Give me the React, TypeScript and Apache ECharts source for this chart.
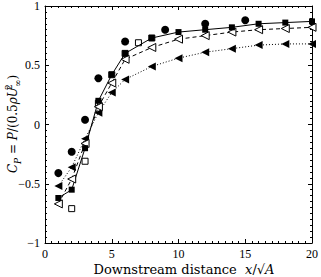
import React, { useEffect, useRef } from 'react';
import * as echarts from 'echarts';

// Downstream positions for the line series
const lineX = [1, 2, 3, 4, 5, 6, 8, 10, 12, 14, 16, 18, 20];
const filledSquareY = [-0.62, -0.55, -0.2, 0.2, 0.42, 0.6, 0.73, 0.78, 0.8, 0.82, 0.85, 0.86, 0.87];
const openTriangleY = [-0.67, -0.46, -0.16, 0.15, 0.35, 0.55, 0.65, 0.72, 0.75, 0.78, 0.8, 0.81, 0.82];
const filledTriangleY = [-0.52, -0.36, -0.12, 0.1, 0.27, 0.38, 0.49, 0.56, 0.61, 0.64, 0.67, 0.68, 0.68];

// Scatter-only series
const openSquareX = [2, 3, 4, 5, 6, 7, 8];
const openSquareY = [-0.71, -0.31, 0.18, 0.42, 0.6, 0.69, 0.73];
const circleX = [1, 2, 3, 4, 6, 9, 12, 15];
const circleY = [-0.41, -0.23, 0.04, 0.39, 0.7, 0.8, 0.85, 0.88];

const xTicks = { min: 0, max: 20, interval: 5 };
const yTicks = { min: -1, max: 1, interval: 0.5 };

const pair = (xs: number[], ys: number[]) => xs.map((x, i) => [x, ys[i]]);

export default function App() {
  const ref = useRef<HTMLDivElement>(null);
  useEffect(() => {
    document.body.style.margin = '0';
    const chart = echarts.init(ref.current!, null, { renderer: 'svg' });
    const font = 'Liberation Serif';
    const labelFont = 'DejaVu Serif';
    const tickCommon = {
      axisLine: { show: true, onZero: false, lineStyle: { color: '#000', width: 1 } },
      axisTick: { show: true, inside: true, length: 4, lineStyle: { color: '#000', width: 1 } },
      minorTick: { show: true, splitNumber: 10, length: 2, lineStyle: { color: '#000', width: 1 } },
      splitLine: { show: false },
      minorSplitLine: { show: false },
    };
    const fmt = (v: number) => (v < 0 ? '\u2212' + Math.abs(v) : String(v));
    chart.setOption({
      animation: false,
      backgroundColor: '#fff',
      grid: { left: 45, right: 9, top: 5, bottom: 34, containLabel: false },
      xAxis: [
        {
          type: 'value', position: 'bottom', ...xTicks, ...tickCommon,
          axisLabel: { color: '#000', fontFamily: font, fontSize: 12, lineHeight: 12, margin: 5, formatter: fmt },
        },
        {
          type: 'value', position: 'top', ...xTicks, ...tickCommon,
          axisLabel: { show: false },
        },
      ],
      yAxis: [
        {
          type: 'value', position: 'left', ...yTicks, ...tickCommon,
          axisLabel: { color: '#000', fontFamily: font, fontSize: 12, lineHeight: 12, margin: 5, formatter: fmt },
        },
        {
          type: 'value', position: 'right', ...yTicks, ...tickCommon,
          axisLabel: { show: false },
        },
      ],
      graphic: [
        {
          type: 'text',
          x: 184,
          y: 269,
          style: {
            text: 'Downstream distance  {i|x}/\u221A{i|A}',
            fontFamily: labelFont,
            fontSize: 13,
            lineHeight: 12,
            fill: '#000',
            align: 'center',
            verticalAlign: 'middle',
            rich: {
              i: { fontFamily: labelFont, fontStyle: 'italic', fontSize: 13, lineHeight: 12, fill: '#000' },
            },
          },
        },
        {
          type: 'text',
          x: 13,
          y: 124,
          rotation: Math.PI / 2,
          style: {
            text: '{i|C}{sub|P} = {i|P}/(0.5{i|\u03C1U}{sup|2}{sub|\u221E})',
            fontFamily: labelFont,
            fontSize: 12,
            fill: '#000',
            align: 'center',
            verticalAlign: 'middle',
            lineHeight: 18,
            rich: {
              i: { fontFamily: labelFont, fontStyle: 'italic', fontSize: 12, fill: '#000', lineHeight: 18 },
              sub: { fontFamily: labelFont, fontStyle: 'italic', fontSize: 9, fill: '#000', verticalAlign: 'bottom', lineHeight: 18 },
              sup: { fontFamily: labelFont, fontSize: 9, fill: '#000', verticalAlign: 'top', lineHeight: 18, width: 0 },
            },
          },
        },
      ],
      series: [
        {
          type: 'line',
          data: pair(lineX, filledTriangleY),
          symbol: 'triangle',
          symbolRotate: 90,
          symbolSize: 8,
          showAllSymbol: true,
          itemStyle: { color: '#000', opacity: 1 },
          lineStyle: { color: '#000', width: 1, type: [1, 2] },
        },
        {
          type: 'line',
          data: pair(lineX, openTriangleY),
          symbol: 'triangle',
          symbolRotate: 90,
          symbolSize: 8,
          showAllSymbol: true,
          itemStyle: { color: '#fff', borderColor: '#000', borderWidth: 1, opacity: 1 },
          lineStyle: { color: '#000', width: 1, type: [4, 3] },
        },
        {
          type: 'line',
          data: pair(lineX, filledSquareY),
          symbol: 'rect',
          symbolSize: 6,
          showAllSymbol: true,
          itemStyle: { color: '#000', opacity: 1 },
          lineStyle: { color: '#000', width: 1, type: 'solid' },
        },
        {
          type: 'scatter',
          data: pair(openSquareX, openSquareY),
          symbol: 'rect',
          symbolSize: 6,
          itemStyle: { color: '#fff', borderColor: '#000', borderWidth: 1, opacity: 1 },
        },
        {
          type: 'scatter',
          data: pair(circleX, circleY),
          symbol: 'circle',
          symbolSize: 8,
          itemStyle: { color: '#000', opacity: 1 },
        },
      ],
    });
    return () => chart.dispose();
  }, []);
  return <div ref={ref} style={{ width: 321, height: 277 }} />;
}
